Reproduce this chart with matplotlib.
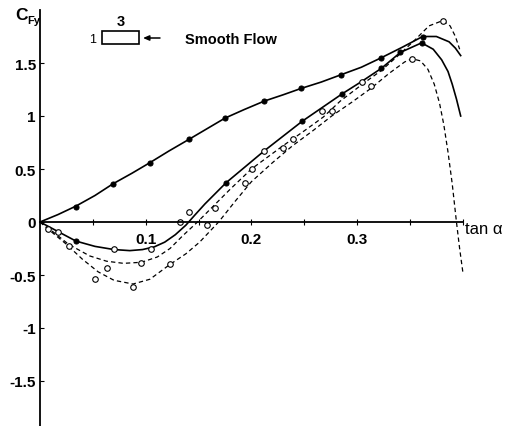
import matplotlib
matplotlib.use("Agg")
import matplotlib.pyplot as plt
from matplotlib.patches import Rectangle

plt.rcParams['font.family'] = ['Liberation Sans', 'DejaVu Sans']

# ---------------- data ----------------
# upper solid curve
a_x = [0.0, 0.017, 0.034, 0.052, 0.069, 0.087, 0.104, 0.122, 0.141, 0.158, 0.175, 0.193,
       0.212, 0.230, 0.247, 0.266, 0.285, 0.304, 0.323, 0.343, 0.362, 0.375, 0.387, 0.393, 0.398]
a_y = [0.0, 0.07, 0.15, 0.25, 0.36, 0.46, 0.56, 0.67, 0.78, 0.88, 0.98, 1.06,
       1.14, 1.20, 1.26, 1.32, 1.39, 1.46, 1.55, 1.65, 1.75, 1.75, 1.70, 1.64, 1.57]
# lower solid curve
b_x = [0.0, 0.017, 0.034, 0.052, 0.070, 0.085, 0.097, 0.108, 0.118, 0.128, 0.138, 0.146,
       0.156, 0.166, 0.176, 0.194, 0.212, 0.230, 0.248, 0.267, 0.286, 0.305, 0.323, 0.341,
       0.361, 0.372, 0.380, 0.386, 0.390, 0.394, 0.398]
b_y = [0.0, -0.09, -0.18, -0.23, -0.26, -0.27, -0.26, -0.235, -0.19, -0.12, -0.03, 0.06,
       0.17, 0.27, 0.37, 0.52, 0.67, 0.81, 0.95, 1.08, 1.21, 1.33, 1.45, 1.60,
       1.69, 1.63, 1.53, 1.42, 1.30, 1.16, 1.00]
# middle dashed curve
c_x = [0.0, 0.012, 0.027, 0.047, 0.063, 0.079, 0.096, 0.111, 0.123, 0.135, 0.149, 0.165,
       0.180, 0.200, 0.230, 0.250, 0.268, 0.284, 0.305, 0.323, 0.340, 0.355, 0.368, 0.381,
       0.388, 0.393, 0.397]
c_y = [0.0, -0.09, -0.21, -0.32, -0.37, -0.39, -0.38, -0.33, -0.25, -0.13, 0.0, 0.16,
       0.31, 0.50, 0.72, 0.86, 0.99, 1.14, 1.30, 1.43, 1.58, 1.72, 1.85, 1.90,
       1.85, 1.75, 1.63]
# lower dashed curve
d_x = [0.0, 0.008, 0.025, 0.040, 0.055, 0.070, 0.088, 0.104, 0.123, 0.138, 0.151, 0.169,
       0.185, 0.200, 0.220, 0.239, 0.258, 0.276, 0.295, 0.313, 0.330, 0.345, 0.352, 0.360,
       0.367, 0.373, 0.378, 0.382, 0.386, 0.390, 0.394, 0.397, 0.400]
d_y = [0.0, -0.07, -0.21, -0.35, -0.47, -0.55, -0.585, -0.54, -0.40, -0.30, -0.19, 0.0,
       0.20, 0.38, 0.56, 0.72, 0.86, 1.00, 1.13, 1.26, 1.40, 1.51, 1.54, 1.52,
       1.44, 1.30, 1.12, 0.92, 0.66, 0.36, 0.00, -0.25, -0.47]

# measured points: filled
full_x = [0.034, 0.069, 0.104, 0.141, 0.175, 0.212, 0.247, 0.285, 0.323, 0.362,
          0.034, 0.176, 0.248, 0.286, 0.323, 0.341, 0.361]
full_y = [0.14, 0.36, 0.56, 0.78, 0.98, 1.14, 1.26, 1.39, 1.55, 1.75,
          -0.18, 0.37, 0.95, 1.21, 1.45, 1.60, 1.69]
# measured points: open
open_x = [0.008, 0.017, 0.027, 0.052, 0.063, 0.070, 0.088, 0.096, 0.105, 0.123, 0.132,
          0.141, 0.158, 0.166, 0.194, 0.201, 0.212, 0.230, 0.239, 0.267, 0.276, 0.305,
          0.313, 0.352, 0.381]
open_y = [-0.07, -0.09, -0.23, -0.54, -0.43, -0.25, -0.61, -0.39, -0.25, -0.40, 0.0,
          0.09, -0.03, 0.13, 0.37, 0.50, 0.67, 0.70, 0.78, 1.05, 1.05, 1.32,
          1.28, 1.54, 1.90]

y_ticks = [-1.5, -1, -0.5, 0, 0.5, 1, 1.5]
y_ticklabels = ['-1.5', '-1', '-0.5', '0', '0.5', '1', '1.5']
x_ticks = [0.05, 0.1, 0.15, 0.2, 0.25, 0.3, 0.35, 0.4]
x_ticklabels = ['', '0.1', '', '0.2', '', '0.3', '', '']

# ---------------- figure ----------------
W, H = 508, 427
fig = plt.figure(figsize=(W / 100, H / 100), dpi=100)
ax = fig.add_axes([0, 0, 1, 1])
ax.set_facecolor('white')
x0_px, sx = 40, 1057.0
y0_px, sy = 223, 106.0
ax.set_xlim(-x0_px / sx, (W - x0_px) / sx)
ax.set_ylim((y0_px - H) / sy, y0_px / sy)

for s in ['top', 'right']:
    ax.spines[s].set_visible(False)
ax.spines['left'].set_position(('data', 0))
ax.spines['bottom'].set_position(('data', 0))
ax.spines['left'].set_bounds(-1.95, 2.0)
ax.spines['bottom'].set_bounds(0, 0.4)
ax.spines['left'].set_linewidth(1.3)
ax.spines['bottom'].set_linewidth(1.3)

ax.set_yticks(y_ticks)
ax.set_yticklabels(y_ticklabels, fontweight='bold')
ax.set_xticks(x_ticks)
ax.set_xticklabels(x_ticklabels, fontweight='bold')
ax.tick_params(axis='y', direction='in', length=3, width=0.8, pad=3, labelsize=11)
ax.tick_params(axis='x', direction='inout', length=5, width=0.8, pad=5, labelsize=11)

ax.plot(a_x, a_y, '-', color='black', lw=1.2)
ax.plot(b_x, b_y, '-', color='black', lw=1.2)
ax.plot(c_x, c_y, '--', color='black', lw=0.9, dashes=(3.5, 2.5))
ax.plot(d_x, d_y, '--', color='black', lw=0.9, dashes=(3.5, 2.5))
ax.plot(full_x, full_y, 'o', color='black', ms=3.6, mfc='black', mec='black', mew=0.8, ls='none')
ax.plot(open_x, open_y, 'o', color='black', ms=4.0, mfc='white', mec='black', mew=0.8, ls='none')

def fx(px):
    return px / W

def fy(py):
    return 1 - py / H

# axis titles
fig.text(fx(15), fy(16), 'C', fontsize=12.5, va='center', ha='left', fontweight='bold')
fig.text(fx(27), fy(21), 'Fy', fontsize=8, va='center', ha='left', fontweight='bold')
fig.text(fx(465), fy(229), 'tan α', fontsize=12, va='center', ha='left')

# legend sketch
fig.add_artist(Rectangle((fx(102), fy(45)), (139 - 102) / W, (45 - 32) / H,
                         transform=fig.transFigure, fill=False, lw=1.2, ec='black'))
fig.text(fx(121), fy(22), '3', fontsize=10.5, ha='center', va='center', fontweight='bold')
fig.text(fx(93), fy(40), '1', fontsize=9, ha='center', va='center')
ax.annotate('', xy=(fx(143), fy(39)), xycoords='figure fraction',
            xytext=(fx(160), fy(39)), textcoords='figure fraction',
            arrowprops=dict(arrowstyle='-|>,head_length=0.35,head_width=0.15',
                            color='black', lw=1.1, shrinkA=0, shrinkB=0))
fig.text(fx(185), fy(40), 'Smooth Flow', fontsize=10.5, ha='left', va='center', fontweight='bold')

fig.savefig('out.png', dpi=100, facecolor='white')
